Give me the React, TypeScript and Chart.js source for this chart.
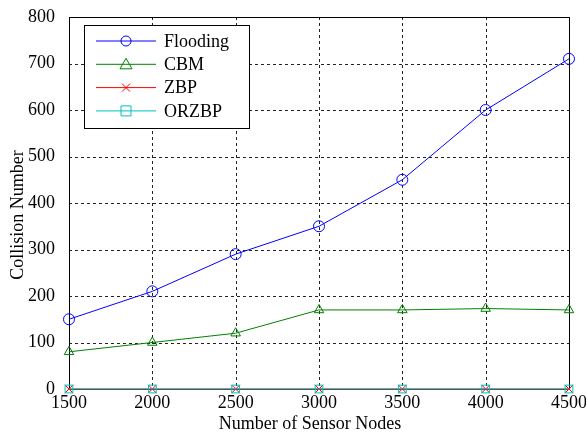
import React, { useEffect, useRef } from "react";
import { Chart, registerables } from "chart.js";

Chart.register(...registerables);

const nodes = [1500, 2000, 2500, 3000, 3500, 4000, 4500];
const flooding = [150, 210, 290, 350, 450, 600, 710];
const cbm = [80, 100, 120, 170, 170, 173, 170];
const zbp = [0, 0, 0, 0, 0, 0, 0];
const orzbp = [0, 0, 0, 0, 0, 0, 0];
const seriesNames = ["Flooding", "CBM", "ZBP", "ORZBP"];
const seriesColors = ["#0000ff", "#008000", "#ff0000", "#00bfbf"];
const seriesMarkers = ["circle", "triangle", "crossRot", "rect"];
const xTitle = "Number of Sensor Nodes";
const yTitle = "Collision Number";

const FONT = "'Liberation Serif', 'Times New Roman', serif";

const gridPlugin = {
  id: "gridPlugin",
  beforeDatasetsDraw(chart: any) {
    const { ctx, chartArea: a, scales } = chart;
    ctx.save();
    ctx.strokeStyle = "#222";
    ctx.lineWidth = 1;
    ctx.setLineDash([3, 3]);
    scales.x.ticks.forEach((t: any) => {
      const x = Math.round(scales.x.getPixelForValue(t.value)) + 0.5;
      ctx.beginPath();
      ctx.moveTo(x, a.top);
      ctx.lineTo(x, a.bottom);
      ctx.stroke();
    });
    scales.y.ticks.forEach((t: any) => {
      const y = Math.round(scales.y.getPixelForValue(t.value)) + 0.5;
      ctx.beginPath();
      ctx.moveTo(a.left, y);
      ctx.lineTo(a.right, y);
      ctx.stroke();
    });
    ctx.setLineDash([]);
    ctx.strokeStyle = "#000";
    ctx.strokeRect(Math.round(a.left) + 0.5, Math.round(a.top) + 0.5, Math.round(a.right - a.left), Math.round(a.bottom - a.top));
    ctx.fillStyle = "#000";
    ctx.font = `18px ${FONT}`;
    ctx.textAlign = "center";
    ctx.textBaseline = "middle";
    ctx.fillText(xTitle, 310, 424);
    ctx.translate(18, 215);
    ctx.rotate(-Math.PI / 2);
    ctx.fillText(yTitle, 0, 0);
    ctx.restore();
  },
  afterDatasetsDraw(chart: any) {
    const { ctx, chartArea: a } = chart;
    ctx.save();
    ctx.lineWidth = 1;
    const lx = a.left + 15, ly = a.top + 8, lw = 165, lh = 103;
    ctx.fillStyle = "#fff";
    ctx.fillRect(lx, ly, lw, lh);
    ctx.strokeStyle = "#000";
    ctx.strokeRect(Math.round(lx) + 0.5, Math.round(ly) + 0.5, lw, lh);
    ctx.font = `18px ${FONT}`;
    ctx.textBaseline = "middle";
    ctx.textAlign = "left";
    seriesNames.forEach((name, i) => {
      const y = ly + 16 + i * 23.3;
      ctx.strokeStyle = seriesColors[i];
      ctx.beginPath();
      ctx.moveTo(lx + 12, y);
      ctx.lineTo(lx + 72, y);
      ctx.stroke();
      const cx = lx + 42;
      ctx.beginPath();
      const m = seriesMarkers[i];
      if (m === "circle") ctx.arc(cx, y, 5, 0, Math.PI * 2);
      else if (m === "triangle") { ctx.moveTo(cx, y - 6); ctx.lineTo(cx + 6, y + 4.5); ctx.lineTo(cx - 6, y + 4.5); ctx.closePath(); }
      else if (m === "crossRot") { ctx.moveTo(cx - 4, y - 4); ctx.lineTo(cx + 4, y + 4); ctx.moveTo(cx + 4, y - 4); ctx.lineTo(cx - 4, y + 4); }
      else { ctx.rect(cx - 5, y - 5, 10, 10); }
      ctx.stroke();
      ctx.fillStyle = "#000";
      ctx.fillText(name, lx + 80, y + 1);
    });
    ctx.restore();
  },
};

export default function App() {
  const ref = useRef<HTMLCanvasElement>(null);
  useEffect(() => {
    document.body.style.margin = "0";
    const data = [flooding, cbm, zbp, orzbp];
    const chart = new Chart(ref.current!, {
      type: "line",
      data: {
        labels: nodes,
        datasets: data.map((d, i) => ({
          label: seriesNames[i],
          data: nodes.map((x, j) => ({ x, y: d[j] })),
          borderColor: seriesColors[i],
          backgroundColor: "rgba(0,0,0,0)",
          pointBorderColor: seriesColors[i],
          pointBackgroundColor: "rgba(0,0,0,0)",
          pointStyle: seriesMarkers[i] as any,
          pointRadius: i === 2 ? 6 : 5.5,
          pointBorderWidth: 1,
          borderWidth: 1,
          tension: 0,
          clip: false as any,
          order: 3 - i,
        })),
      },
      options: {
        animation: false,
        responsive: false,
        layout: { padding: { left: 0, right: 17, top: 17, bottom: 0 } },
        plugins: { legend: { display: false }, tooltip: { enabled: false } },
        scales: {
          x: {
            type: "linear",
            min: 1500,
            max: 4500,
            ticks: { stepSize: 500, color: "#000", font: { family: FONT, size: 18 }, padding: -5, maxRotation: 0, callback: (v: any) => String(v) },
            grid: { display: false },
            border: { display: false },
            afterFit(s: any) { s.height = 45; },
          },
          y: {
            min: 0,
            max: 800,
            ticks: { stepSize: 100, color: "#000", font: { family: FONT, size: 18 }, padding: 6, callback: (v: any) => String(v) },
            grid: { display: false },
            border: { display: false },
            afterFit(s: any) { s.width = 69; },
          },
        },
      },
      plugins: [gridPlugin],
    });
    return () => chart.destroy();
  }, []);
  return <canvas ref={ref} width={586} height={434} style={{ display: "block" }} />;
}
